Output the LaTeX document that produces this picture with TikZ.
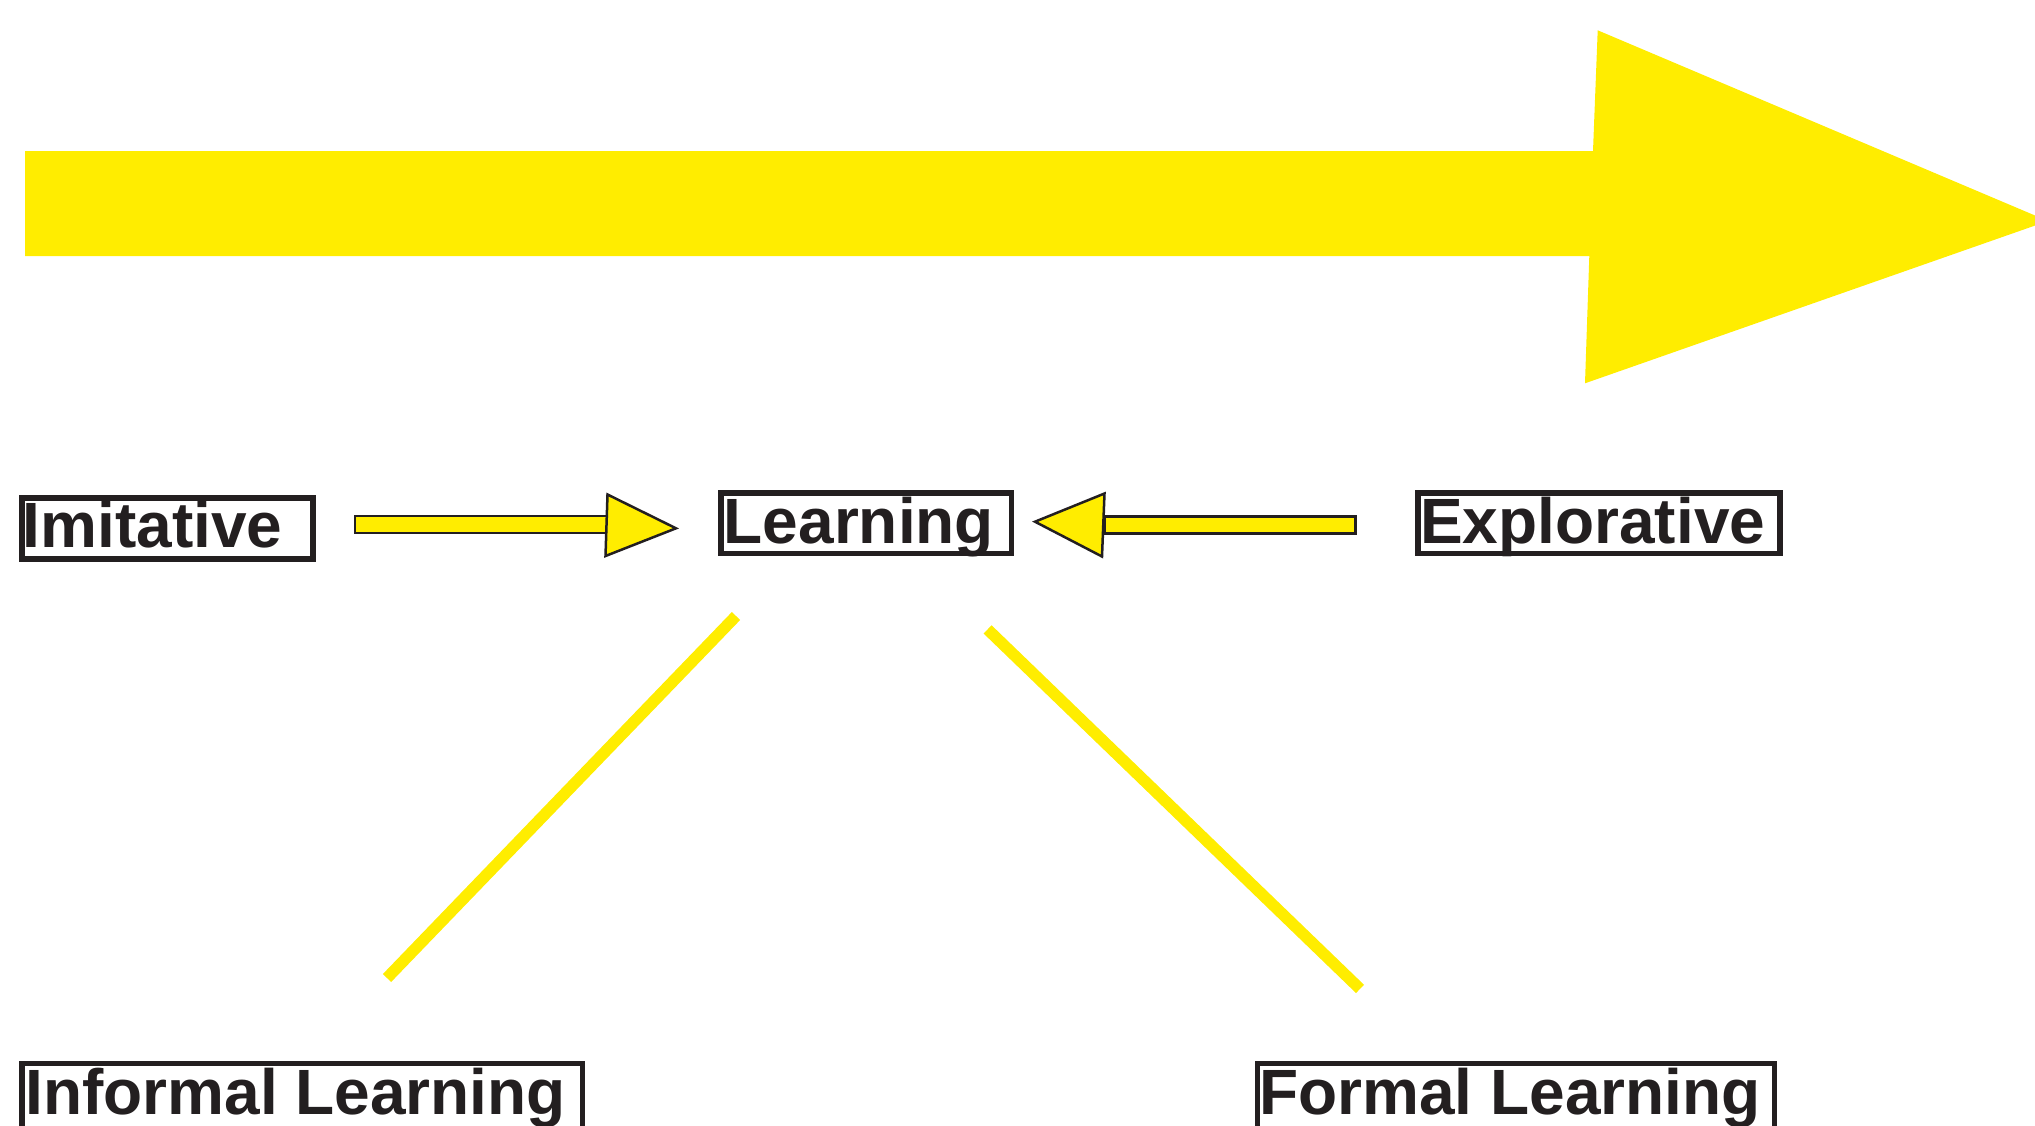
\documentclass[tikz,border=0pt]{standalone}
\usepackage{fontspec}
\setmainfont{Liberation Sans}
\definecolor{ylw}{RGB}{255,237,0}
\definecolor{ink}{RGB}{35,31,32}
\begin{document}
\begin{tikzpicture}[x=1pt,y=-1pt,
  box/.style={draw=ink, line width=5.5pt, rectangle, inner sep=0pt},
  lbl/.style={font=\bfseries\fontsize{64}{70}\selectfont, text=ink, inner sep=0pt, anchor=base west},
  blockarrow/.style={fill=ylw, draw=ink, line width=2.5pt, line join=miter},
  band/.style={draw=ylw, line width=11.5pt}]
\useasboundingbox (0,0) rectangle (2035,1125);
\clip (0,0) rectangle (2035,1125);

% big direction arrow
\fill[ylw] (25,151) -- (1593,151) -- (1597.7,30.3) -- (2048,221) -- (1585,383.3) -- (1589.3,256) -- (25,256) -- cycle;

% boxes
\node[box, minimum width=291pt, minimum height=61pt] (imit) at (167.3,528.3) {};
\node[box, minimum width=290.7pt, minimum height=60.3pt] (learn) at (866.15,523.35) {};
\node[box, minimum width=362pt, minimum height=60.3pt] (explo) at (1599.2,523.35) {};
\node[box, minimum width=560.5pt, minimum height=76.5pt] (informal) at (302.05,1101.75) {};
\node[box, minimum width=517pt, minimum height=76.5pt] (formal) at (1516,1101.75) {};

% labels
\node[lbl] (imitT) at (22.7,547.7) {Imitative};
\node[lbl] (learnT) at (723.6,543.3) {Learning};
\node[lbl] (exploT) at (1420,543.3) {Explorative};
\node[lbl] (informalT) at (25.3,1114) {Informal Learning};
\node[lbl] (formalT) at (1259,1114) {Formal Learning};

% block arrow Imitative -> Learning
\draw[blockarrow] (355,516) rectangle (607,533);
\draw[blockarrow] (607.5,494.5) -- (676,528.3) -- (605.5,556) -- cycle;

% block arrow Explorative -> Learning
\draw[blockarrow] (1105,516.7) rectangle (1355.7,533.3);
\draw[blockarrow] (1104.5,493.5) -- (1035,521.7) -- (1102,556.5) -- cycle;

% yellow links
\coordinate (l1a) at (736,616);
\coordinate (l1b) at (387,978);
\coordinate (l2a) at (987.6,629.4);
\coordinate (l2b) at (1360,988.9);
\draw[band] (l1a) -- (l1b);
\draw[band] (l2a) -- (l2b);
\end{tikzpicture}
\end{document}
